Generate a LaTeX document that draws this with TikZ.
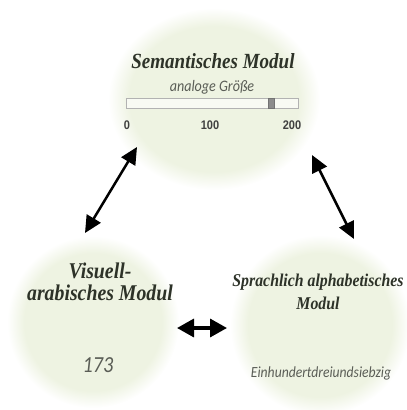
\documentclass[tikz,border=0pt]{standalone}
\usepackage{fontspec}
\setmainfont{Liberation Serif}
\newfontfamily\titlefont[FakeStretch=0.88]{Liberation Serif}
\newfontfamily\notefont[FakeStretch=0.88]{Carlito}
\newfontfamily\tickfont[FakeStretch=0.88]{Liberation Sans}
\usepackage{tikz}
\usetikzlibrary{shapes.geometric,positioning,calc,arrows.meta}
\definecolor{blobgreen}{RGB}{238,243,226}
\definecolor{titlegray}{RGB}{45,50,40}
\definecolor{notegray}{RGB}{90,93,86}
\pgfdeclareradialshading{blobshade}{\pgfpoint{0bp}{0bp}}{color(0bp)=(blobgreen); color(20bp)=(blobgreen); color(25bp)=(white); color(50bp)=(white)}
\tikzset{BLOB/.style={ellipse, shading=blobshade, inner sep=0pt}}
\tikzset{TITLE/.style={font=\titlefont\bfseries\itshape, text=titlegray, align=center, anchor=base, inner sep=0pt}}
\tikzset{NOTE/.style={font=\notefont\itshape, text=notegray, anchor=base, inner sep=0pt}}
\tikzset{TICK/.style={font=\tickfont\bfseries\fontsize{12.5}{14}\selectfont, text=black!75, anchor=base, inner sep=0pt}}
\tikzset{ARROW/.style={line width=2.5pt, {Triangle[length=17pt,width=16pt]}-{Triangle[length=17pt,width=16pt]}}}

\begin{document}
\begin{tikzpicture}[x=1pt,y=-1pt]
    \useasboundingbox (0,0) rectangle (407,410);
    \clip (0,0) rectangle (407,410);

    % the three modules
    \node[BLOB, minimum width=212pt, minimum height=182pt] (n_sem) at (214,99) {};
    \node[BLOB, minimum width=172pt, minimum height=172pt] (n_vis) at (93,322) {};
    \node[BLOB, minimum width=180pt, minimum height=180pt] (n_spr) at (320,325) {};

    % semantic module with the number line
    \node[TITLE, font=\titlefont\bfseries\itshape\fontsize{21.6}{24}\selectfont] (n_sem_title) at (213,68) {Semantisches Modul};
    \node[NOTE, font=\notefont\itshape\fontsize{16}{18}\selectfont] (n_sem_note) at (212,91) {analoge Größe};
    \node[rectangle, draw=black!30, fill=white!60!blobgreen, line width=0.8pt, minimum width=172pt, minimum height=10pt, inner sep=0pt] (n_bar) at (212,103) {};
    \node[rectangle, draw=black!55, fill=black!45, line width=0.5pt, minimum width=6pt, minimum height=10pt, inner sep=0pt] (n_mark) at (271,103) {};
    \node[TICK] (n_tick0) at (127,129) {0};
    \node[TICK] (n_tick100) at (210,129) {100};
    \node[TICK] (n_tick200) at (292,129) {200};

    % visual arabic module
    \node[TITLE, font=\titlefont\bfseries\itshape\fontsize{22.5}{22}\selectfont] (n_vis_title) at (100,300) {Visuell-\\arabisches Modul};
    \node[NOTE, font=\notefont\itshape\fontsize{23}{24}\selectfont] (n_vis_note) at (98,372) {173};

    % verbal module
    \node[TITLE, font=\titlefont\bfseries\itshape\fontsize{18}{23}\selectfont] (n_spr_title) at (318,309) {Sprachlich alphabetisches\\Modul};
    \node[NOTE, font=\notefont\itshape\fontsize{15.5}{18}\selectfont] (n_spr_note) at (321,377) {Einhundertdreiundsiebzig};

    % connections
    \coordinate (sem_left) at ($(n_sem.center)+(-77,48)$);
    \coordinate (vis_top) at ($(n_vis.center)+(-8,-89)$);
    \draw[ARROW] (sem_left) -- (vis_top);

    \coordinate (sem_right) at ($(n_sem.center)+(98,56)$);
    \coordinate (spr_top) at ($(n_spr.center)+(34,-86)$);
    \draw[ARROW] (sem_right) -- (spr_top);

    \coordinate (vis_right) at ($(n_vis.center)+(84,6)$);
    \coordinate (spr_left) at ($(n_spr.center)+(-93,3)$);
    \draw[ARROW, line width=3.4pt, {Triangle[length=17pt,width=18pt]}-{Triangle[length=17pt,width=18pt]}] (vis_right) -- (spr_left);

\end{tikzpicture}
\end{document}
